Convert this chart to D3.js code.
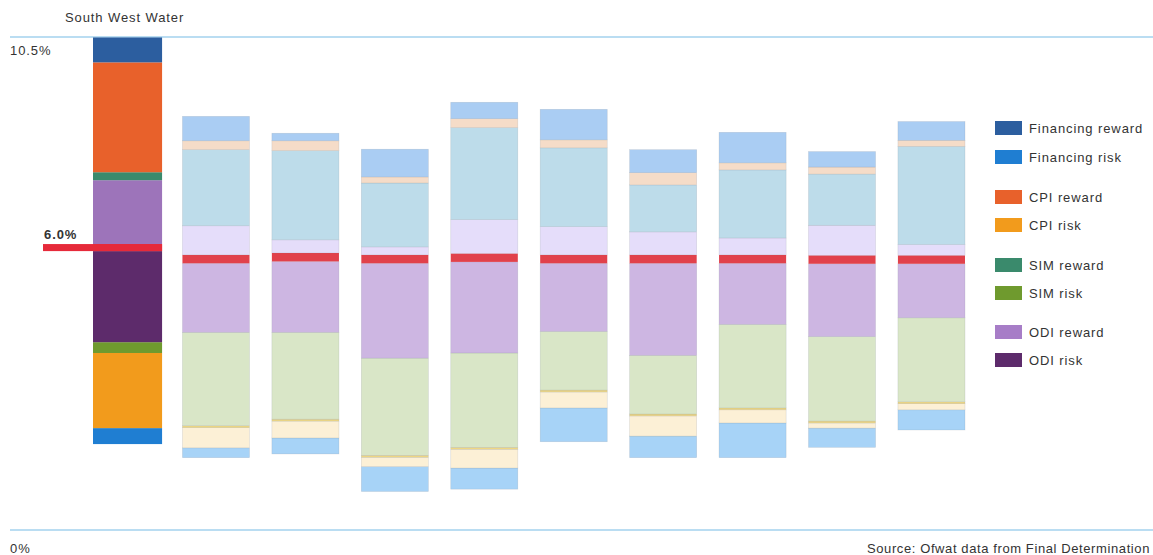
<!DOCTYPE html>
<html>
<head>
<meta charset="utf-8">
<script src="https://cdn.jsdelivr.net/npm/d3@7"></script>
<style>
  body { margin: 0; background: #fff; }
  svg { display: block; font-family: "Liberation Sans", Arial, sans-serif; }
  svg text { letter-spacing: 0.9px; }
</style>
</head>
<body>
<svg id="chart" width="1153" height="555"></svg>
<script>
// companies, South West Water first, the peers are not named in the picture
const companies = ["South West Water", "Peer 1", "Peer 2", "Peer 3", "Peer 4", "Peer 5", "Peer 6", "Peer 7", "Peer 8", "Peer 9"];

// South West Water stack, bottom to top (% points)
const swwBase = 1.83;
const swwLayers = ["Financing risk", "CPI risk", "SIM risk", "ODI risk", "6.0%", "ODI reward", "SIM reward", "CPI reward", "Financing reward"];
const swwValues = [0.34, 1.60, 0.23, 1.94, 0.15, 1.36, 0.17, 2.34, 0.53];

// peer stacks, one array per layer, bottom to top
const peerBase      = [1.54, 1.62, 0.82, 0.87, 1.88, 1.54, 1.54, 1.76, 2.13];
const peerFinRisk   = [0.21, 0.34, 0.53, 0.45, 0.72, 0.46, 0.74, 0.41, 0.43];
const peerCpiRisk   = [0.43, 0.36, 0.20, 0.40, 0.34, 0.43, 0.28, 0.11, 0.13];
const peerSimRisk   = [0.04, 0.04, 0.04, 0.04, 0.04, 0.04, 0.04, 0.04, 0.04];
const peerOdiLow    = [1.99, 1.85, 2.07, 2.01, 1.25, 1.25, 1.78, 1.80, 1.79];
const peerOdiHigh   = [1.47, 1.51, 2.02, 1.94, 1.45, 1.96, 1.30, 1.55, 1.15];
const peerMarker    = [0.18, 0.18, 0.18, 0.18, 0.18, 0.18, 0.18, 0.18, 0.18];
const peerOdiReward = [0.62, 0.28, 0.17, 0.72, 0.60, 0.49, 0.36, 0.64, 0.23];
const peerSimReward = [1.62, 1.90, 1.36, 1.96, 1.68, 1.00, 1.45, 1.09, 2.09];
const peerCpiReward = [0.19, 0.21, 0.13, 0.19, 0.17, 0.26, 0.15, 0.15, 0.13];
const peerFinReward = [0.52, 0.16, 0.59, 0.35, 0.65, 0.49, 0.65, 0.33, 0.40];

const peerSeries = [peerFinRisk, peerCpiRisk, peerSimRisk, peerOdiLow, peerOdiHigh, peerMarker,
                    peerOdiReward, peerSimReward, peerCpiReward, peerFinReward];

const legendLabels = ["Financing reward", "Financing risk", "CPI reward", "CPI risk", "SIM reward", "SIM risk", "ODI reward", "ODI risk"];
const yTicks = [0, 10.5];
const markerValue = 6.0;

// colours
const swwColours = ["#1f7ed2", "#f29b1c", "#6f9a2e", "#5d2b6b", "#e62a3a", "#9d74ba", "#3a8a6c", "#e8612b", "#2c5e9f"];
const peerColours = ["#a7d3f7", "#fcf0d6", "#f0d884", "#d9e6c7", "#cdb6e2", "#e1414b",
                     "#e5ddfa", "#bddcea", "#f5dcc8", "#aacdf3"];
const legendColours = ["#2c5e9f", "#1f7ed2", "#e8612b", "#f29b1c", "#3a8a6c", "#6f9a2e", "#a77dc7", "#5d2b6b"];

const svg = d3.select("#chart");
const width = +svg.attr("width");

const y = d3.scaleLinear().domain([0, 10.5]).range([530, 37]);
const x = d3.scaleBand().domain(companies).range([93, 965]).paddingInner(0.25).paddingOuter(0);

// top and bottom rules
svg.selectAll(".rule")
  .data(yTicks)
  .enter()
  .append("line")
  .attr("x1", 10)
  .attr("x2", width)
  .attr("y1", d => y(d))
  .attr("y2", d => y(d))
  .attr("stroke", "#a3d2ee")
  .attr("stroke-width", 1.5);

svg.selectAll(".tick-label")
  .data(yTicks)
  .enter()
  .append("text")
  .attr("x", 10)
  .attr("y", d => d === 0 ? y(d) + 23 : y(d) + 18)
  .attr("font-size", "13px")
  .attr("fill", "#333")
  .text(d => d === 0 ? "0%" : d + "%");

// build segments from the arrays
function stackSegments(base, values, colours) {
  const tops = d3.cumsum(values).map(v => v + base);
  return values.map((v, i) => ({ y0: tops[i] - v, y1: tops[i], colour: colours[i], i }));
}

// South West Water bar
const swwSegs = stackSegments(swwBase, swwValues, swwColours);
svg.append("g")
  .selectAll("rect")
  .data(swwSegs)
  .enter()
  .append("rect")
  .attr("x", x(companies[0]))
  .attr("width", x.bandwidth() + 2)
  .attr("y", d => y(d.y1))
  .attr("height", d => y(d.y0) - y(d.y1))
  .attr("fill", d => d.colour);

// red 6% marker extends to the left
const marker = swwSegs[4];
svg.append("rect")
  .attr("x", 43)
  .attr("width", x(companies[0]) + x.bandwidth() + 2 - 43)
  .attr("y", y(marker.y1))
  .attr("height", y(marker.y0) - y(marker.y1))
  .attr("fill", "#e62a3a");

svg.append("text")
  .attr("x", 44)
  .attr("y", y(marker.y1) - 5)
  .attr("font-size", "13px")
  .attr("font-weight", "bold")
  .attr("fill", "#333")
  .text(markerValue.toFixed(1) + "%");

svg.append("text")
  .attr("x", 65)
  .attr("y", 22)
  .attr("font-size", "13px")
  .attr("fill", "#333")
  .text(companies[0]);

// peer bars
companies.slice(1).forEach((c, j) => {
  const vals = peerSeries.map(s => s[j]);
  const segs = stackSegments(peerBase[j], vals, peerColours);
  svg.append("g")
    .selectAll("rect")
    .data(segs)
    .enter()
    .append("rect")
    .attr("x", x(c))
    .attr("width", x.bandwidth())
    .attr("y", d => y(d.y1))
    .attr("height", d => y(d.y0) - y(d.y1))
    .attr("fill", d => d.colour)
    .attr("stroke", d => d.i === 5 ? "none" : "rgba(120,130,140,0.25)")
    .attr("stroke-width", 0.6);
});

// legend
const legend = svg.append("g");
const legendY = [128, 157, 197, 225, 265, 293, 332, 360];
legendLabels.forEach((label, i) => {
  legend.append("rect")
    .attr("x", 995)
    .attr("y", legendY[i] - 7)
    .attr("width", 27)
    .attr("height", 14)
    .attr("fill", legendColours[i]);
  legend.append("text")
    .attr("x", 1029)
    .attr("y", legendY[i] + 5)
    .attr("font-size", "13px")
    .attr("fill", "#333")
    .text(label);
});

// source note, kept inside the frame
svg.append("text")
  .attr("x", 1150)
  .attr("y", 553)
  .attr("text-anchor", "end")
  .attr("font-size", "13px")
  .style("letter-spacing", "0.6px")
  .attr("fill", "#333")
  .text("Source: Ofwat data from Final Determination");
</script>
</body>
</html>
